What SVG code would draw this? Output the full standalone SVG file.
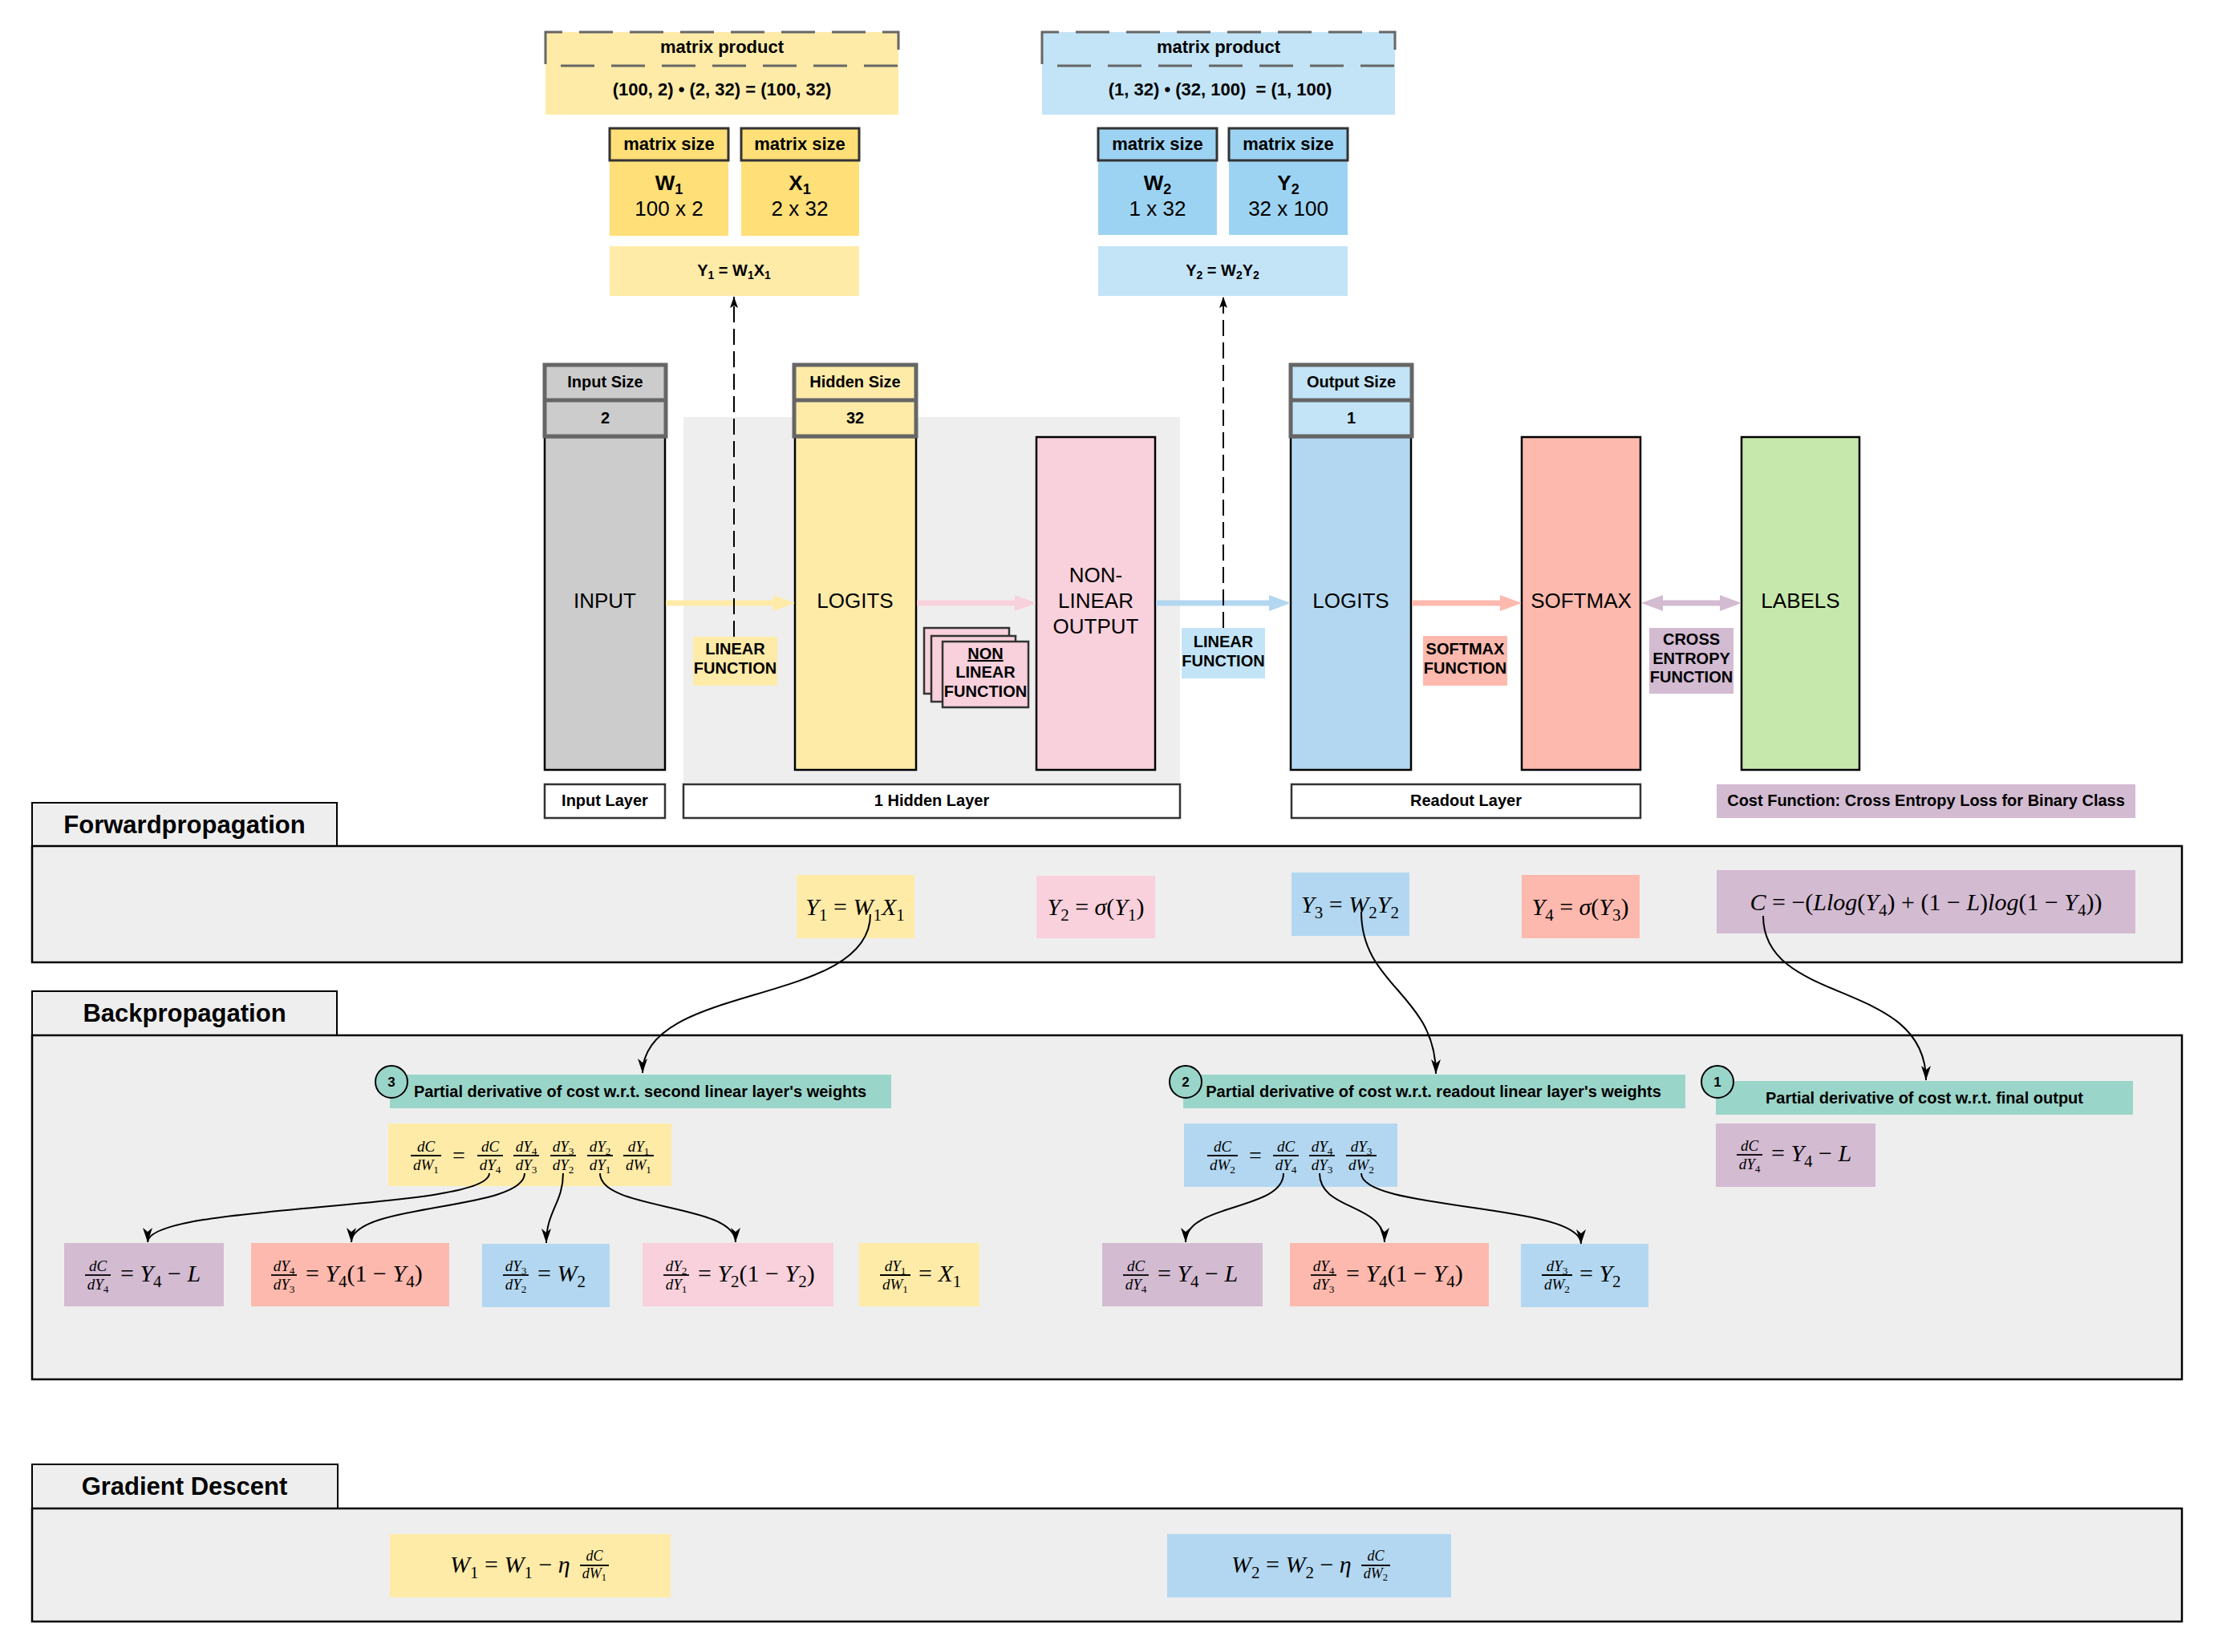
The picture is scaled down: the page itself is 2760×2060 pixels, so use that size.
<svg xmlns="http://www.w3.org/2000/svg" width="2760" height="2060" viewBox="0 0 2760 2060">
<defs>
<style>
text{font-family:"Liberation Sans",Arial,sans-serif;fill:#000}
.b{font-weight:bold}
.c{text-anchor:middle}
.lbl{font-size:20px;font-weight:bold;text-anchor:middle}
.big{font-size:26px;text-anchor:middle}
.sz{font-size:20px;font-weight:bold;text-anchor:middle}
.m{font-family:"Liberation Serif","Times New Roman",serif;font-style:italic}
.u{font-style:normal}
.s{font-size:70%;font-style:normal}
.f{font-size:19px;text-anchor:middle}
.f2{font-size:18px;text-anchor:middle}
.eq{font-size:30px}
.col{stroke:#000;stroke-width:2.5}
.szbox{stroke:#666;stroke-width:5}
.lay{fill:#fff;stroke:#333;stroke-width:2.5}
.panel{fill:#eee;stroke:#000;stroke-width:2.5}
.tab{fill:#eee;stroke:#000;stroke-width:2}
.conn{fill:none;stroke:#000;stroke-width:2;marker-end:url(#ah)}
.dash{fill:none;stroke:#000;stroke-width:2;stroke-dasharray:20 8;marker-end:url(#ahs)}
.bar{stroke:#000;stroke-width:1.8}
.stk{fill:#F8D1DC;stroke:#333;stroke-width:2.5}
.teal{fill:#9AD5C9}
</style>
<marker id="ah" markerWidth="18" markerHeight="12" refX="18" refY="6" orient="auto" markerUnits="userSpaceOnUse">
<path d="M0,0 L18,6 L0,12 L5,6 Z" fill="#000"/>
</marker>
<marker id="ahs" markerWidth="14" markerHeight="10" refX="14" refY="5" orient="auto" markerUnits="userSpaceOnUse">
<path d="M0,0 L14,5 L0,10 L3,5 Z" fill="#000"/>
</marker>
</defs>
<rect width="2760" height="2060" fill="#fff"/>

<!-- top matrix boxes, yellow -->
<g id="matprod1">
<rect x="680" y="40" width="440" height="103" fill="#FFEBA8"/>
<rect x="680" y="40" width="440" height="42" fill="none" stroke="#666" stroke-width="3" stroke-dasharray="42 21" stroke-dashoffset="21"/>
<text x="900" y="66" class="b c" font-size="22">matrix product</text>
<text x="900" y="119" class="b c" font-size="22">(100, 2) • (2, 32) = (100, 32)</text>
</g>
<g id="matW1">
<rect x="760" y="200" width="148" height="94" fill="#FFDF78"/>
<rect x="760" y="160" width="148" height="40" fill="#FFDF78" stroke="#333" stroke-width="3"/>
<text x="834" y="187" class="b c" font-size="22">matrix size</text>
<text x="834" y="237" class="b c" font-size="26">W<tspan font-size="18" dy="5">1</tspan></text>
<text x="834" y="269" class="c" font-size="26">100 x 2</text>
</g>
<g id="matX1">
<rect x="924" y="200" width="147" height="94" fill="#FFDF78"/>
<rect x="924" y="160" width="147" height="40" fill="#FFDF78" stroke="#333" stroke-width="3"/>
<text x="997" y="187" class="b c" font-size="22">matrix size</text>
<text x="997" y="237" class="b c" font-size="26">X<tspan font-size="18" dy="5">1</tspan></text>
<text x="997" y="269" class="c" font-size="26">2 x 32</text>
</g>
<g id="eqY1top">
<rect x="760" y="307" width="311" height="62" fill="#FFEBA8"/>
<text x="915" y="344" class="b c" font-size="20">Y<tspan font-size="14" dy="4">1</tspan><tspan dy="-4"> = W</tspan><tspan font-size="14" dy="4">1</tspan><tspan dy="-4">X</tspan><tspan font-size="14" dy="4">1</tspan></text>
</g>

<!-- top matrix boxes, blue -->
<g id="matprod2">
<rect x="1299" y="40" width="440" height="103" fill="#C3E4F7"/>
<rect x="1299" y="40" width="440" height="42" fill="none" stroke="#666" stroke-width="3" stroke-dasharray="42 21" stroke-dashoffset="21"/>
<text x="1519" y="66" class="b c" font-size="22">matrix product</text>
<text x="1521" y="119" class="b c" font-size="22" xml:space="preserve">(1, 32) • (32, 100)  = (1, 100)</text>
</g>
<g id="matW2">
<rect x="1369" y="200" width="148" height="93" fill="#9DD3F2"/>
<rect x="1369" y="160" width="148" height="40" fill="#9DD3F2" stroke="#333" stroke-width="3"/>
<text x="1443" y="187" class="b c" font-size="22">matrix size</text>
<text x="1443" y="237" class="b c" font-size="26">W<tspan font-size="18" dy="5">2</tspan></text>
<text x="1443" y="269" class="c" font-size="26">1 x 32</text>
</g>
<g id="matY2">
<rect x="1532" y="200" width="148" height="93" fill="#9DD3F2"/>
<rect x="1532" y="160" width="148" height="40" fill="#9DD3F2" stroke="#333" stroke-width="3"/>
<text x="1606" y="187" class="b c" font-size="22">matrix size</text>
<text x="1606" y="237" class="b c" font-size="26">Y<tspan font-size="18" dy="5">2</tspan></text>
<text x="1606" y="269" class="c" font-size="26">32 x 100</text>
</g>
<g id="eqY2top">
<rect x="1369" y="307" width="311" height="62" fill="#C3E4F7"/>
<text x="1524" y="344" class="b c" font-size="20">Y<tspan font-size="14" dy="4">2</tspan><tspan dy="-4"> = W</tspan><tspan font-size="14" dy="4">2</tspan><tspan dy="-4">Y</tspan><tspan font-size="14" dy="4">2</tspan></text>
</g>

<!-- hidden layer background -->
<rect id="hiddenBg" x="852" y="520" width="619" height="456" fill="#EEEEEE"/>

<!-- columns -->
<g id="input">
<rect x="679" y="545" width="150" height="415" fill="#CCCCCC" class="col"/>
<rect x="679" y="455" width="151" height="89" fill="#CCCCCC" class="szbox"/>
<line x1="679" y1="499" x2="830" y2="499" class="szbox"/>
<text x="754.5" y="483" class="sz">Input Size</text>
<text x="754.5" y="528" class="sz">2</text>
<text x="754" y="758" class="big">INPUT</text>
</g>
<g id="logits1">
<rect x="991" y="545" width="151" height="415" fill="#FFEBA8" class="col"/>
<rect x="990" y="455" width="152" height="89" fill="#FFEBA8" class="szbox"/>
<line x1="990" y1="499" x2="1142" y2="499" class="szbox"/>
<text x="1066" y="483" class="sz">Hidden Size</text>
<text x="1066" y="528" class="sz">32</text>
<text x="1066" y="758" class="big">LOGITS</text>
</g>
<g id="nonlinear">
<rect x="1292" y="545" width="148" height="415" fill="#F8D1DC" class="col"/>
<text x="1366" y="726" class="big">NON-</text>
<text x="1366" y="758" class="big">LINEAR</text>
<text x="1366" y="790" class="big">OUTPUT</text>
</g>
<g id="logits2">
<rect x="1609" y="545" width="150" height="415" fill="#B3D7F0" class="col"/>
<rect x="1609" y="455" width="151" height="89" fill="#C3E4F7" class="szbox"/>
<line x1="1609" y1="499" x2="1760" y2="499" class="szbox"/>
<text x="1684.5" y="483" class="sz">Output Size</text>
<text x="1684.5" y="528" class="sz">1</text>
<text x="1684" y="758" class="big">LOGITS</text>
</g>
<g id="softmax">
<rect x="1897" y="545" width="148" height="415" fill="#FDB9AE" class="col"/>
<text x="1971" y="758" class="big">SOFTMAX</text>
</g>
<g id="labels">
<rect x="2171" y="545" width="147" height="415" fill="#C7E8AC" class="col"/>
<text x="2244.5" y="758" class="big">LABELS</text>
</g>

<!-- flow arrows -->
<g id="flow">
<line x1="830" y1="752" x2="966" y2="752" stroke="#FFEBA8" stroke-width="7"/>
<polygon points="964,742 991,752 964,762" fill="#FFEBA8"/>
<line x1="1143" y1="752" x2="1268" y2="752" stroke="#F8D1DC" stroke-width="7"/>
<polygon points="1265,742 1292,752 1265,762" fill="#F8D1DC"/>
<line x1="1441" y1="752" x2="1585" y2="752" stroke="#B3D7F0" stroke-width="7"/>
<polygon points="1582,742 1609,752 1582,762" fill="#B3D7F0"/>
<line x1="1760" y1="752" x2="1873" y2="752" stroke="#FDB9AE" stroke-width="7"/>
<polygon points="1870,742 1897,752 1870,762" fill="#FDB9AE"/>
<line x1="2070" y1="752" x2="2147" y2="752" stroke="#D3BBD2" stroke-width="7"/>
<polygon points="2073,742 2046,752 2073,762" fill="#D3BBD2"/>
<polygon points="2144,742 2171,752 2144,762" fill="#D3BBD2"/>
<line x1="915" y1="794" x2="915" y2="370" class="dash"/>
<line x1="1525" y1="783" x2="1525" y2="370" class="dash"/>
</g>

<!-- function labels -->
<g id="linfn1">
<rect x="864" y="794" width="105" height="61" fill="#FFEBA8"/>
<text x="916.5" y="816" class="lbl">LINEAR</text>
<text x="916.5" y="840" class="lbl">FUNCTION</text>
</g>
<g id="nonlinfn">
<rect x="1152" y="783" width="106" height="82" class="stk"/>
<rect x="1161" y="793" width="105" height="82" class="stk"/>
<rect x="1175" y="800" width="107" height="82" class="stk"/>
<text x="1228.5" y="822" class="lbl" text-decoration="underline">NON</text>
<text x="1228.5" y="845" class="lbl">LINEAR</text>
<text x="1228.5" y="869" class="lbl" font-size="19">FUNCTION</text>
</g>
<g id="linfn2">
<rect x="1473" y="783" width="104" height="63" fill="#C3E4F7"/>
<text x="1525" y="807" class="lbl">LINEAR</text>
<text x="1525" y="831" class="lbl">FUNCTION</text>
</g>
<g id="softfn">
<rect x="1774" y="793" width="105" height="62" fill="#FDB9AE"/>
<text x="1826.5" y="816" class="lbl">SOFTMAX</text>
<text x="1826.5" y="840" class="lbl">FUNCTION</text>
</g>
<g id="crossfn">
<rect x="2056" y="783" width="105" height="82" fill="#D3BBD2"/>
<text x="2108.5" y="804" class="lbl">CROSS</text>
<text x="2108.5" y="828" class="lbl">ENTROPY</text>
<text x="2108.5" y="851" class="lbl">FUNCTION</text>
</g>

<!-- layer labels -->
<g id="layerInput"><rect x="679" y="978" width="150" height="42" class="lay"/><text x="754" y="1005" class="sz">Input Layer</text></g>
<g id="layerHidden"><rect x="852" y="978" width="619" height="42" class="lay"/><text x="1161.5" y="1005" class="sz">1 Hidden Layer</text></g>
<g id="layerReadout"><rect x="1610" y="978" width="435" height="42" class="lay"/><text x="1827.5" y="1005" class="sz">Readout Layer</text></g>
<g id="costLabel"><rect x="2140" y="978" width="522" height="42" fill="#D3BBD2"/><text x="2401" y="1005" class="sz">Cost Function: Cross Entropy Loss for Binary Class</text></g>

<!-- Forward propagation -->
<g id="forward">
<rect x="40" y="1001" width="380" height="54" class="tab"/>
<rect x="40" y="1055" width="2680" height="145" class="panel"/>
<text x="230" y="1039" class="b c" font-size="31">Forwardpropagation</text>
</g>
<g id="fY1"><rect x="993" y="1091" width="147" height="79" fill="#FFEBA8"/>
<text class="m eq c" x="1066" y="1141">Y<tspan class="s" dy="7">1</tspan><tspan class="u" dy="-7"> = </tspan>W<tspan class="s" dy="7">1</tspan><tspan dy="-7">X</tspan><tspan class="s" dy="7">1</tspan></text></g>
<g id="fY2"><rect x="1292" y="1092" width="148" height="78" fill="#F8D1DC"/>
<text class="m eq c" x="1366" y="1141">Y<tspan class="s" dy="7">2</tspan><tspan class="u" dy="-7"> = </tspan>σ<tspan class="u">(</tspan>Y<tspan class="s" dy="7">1</tspan><tspan class="u" dy="-7">)</tspan></text></g>
<g id="fY3"><rect x="1610" y="1088" width="147" height="79" fill="#B3D7F0"/>
<text class="m eq c" x="1683" y="1138">Y<tspan class="s" dy="7">3</tspan><tspan class="u" dy="-7"> = </tspan>W<tspan class="s" dy="7">2</tspan><tspan dy="-7">Y</tspan><tspan class="s" dy="7">2</tspan></text></g>
<g id="fY4"><rect x="1897" y="1091" width="147" height="79" fill="#FDB9AE"/>
<text class="m eq c" x="1970" y="1141">Y<tspan class="s" dy="7">4</tspan><tspan class="u" dy="-7"> = </tspan>σ<tspan class="u">(</tspan>Y<tspan class="s" dy="7">3</tspan><tspan class="u" dy="-7">)</tspan></text></g>
<g id="fC"><rect x="2140" y="1085" width="522" height="79" fill="#D3BBD2"/>
<text class="m eq c" x="2401" y="1135">C<tspan class="u"> = −(</tspan>Llog<tspan class="u">(</tspan>Y<tspan class="s" dy="7">4</tspan><tspan class="u" dy="-7">) + (1 − </tspan>L<tspan class="u">)</tspan>log<tspan class="u">(1 − </tspan>Y<tspan class="s" dy="7">4</tspan><tspan class="u" dy="-7">))</tspan></text></g>

<!-- Backpropagation -->
<g id="backward">
<rect x="40" y="1236" width="380" height="55" class="tab"/>
<rect x="40" y="1291" width="2680" height="429" class="panel"/>
<text x="230" y="1274" class="b c" font-size="31">Backpropagation</text>
</g>
<g id="step3">
<rect x="486" y="1340" width="625" height="42" class="teal"/>
<circle cx="488" cy="1349" r="20" class="teal" stroke="#000" stroke-width="2"/>
<text x="488" y="1355" class="b c" font-size="17">3</text>
<text x="798" y="1368" class="b c" font-size="20">Partial derivative of cost w.r.t. second linear layer's weights</text>
</g>
<g id="step2">
<rect x="1475" y="1340" width="626" height="42" class="teal"/>
<circle cx="1478" cy="1349" r="20" class="teal" stroke="#000" stroke-width="2"/>
<text x="1478" y="1355" class="b c" font-size="17">2</text>
<text x="1787" y="1368" class="b c" font-size="20">Partial derivative of cost w.r.t. readout linear layer's weights</text>
</g>
<g id="step1">
<rect x="2139" y="1348" width="520" height="42" class="teal"/>
<circle cx="2141" cy="1349" r="20" class="teal" stroke="#000" stroke-width="2"/>
<text x="2141" y="1355" class="b c" font-size="17">1</text>
<text x="2399" y="1376" class="b c" font-size="20">Partial derivative of cost w.r.t. final output</text>
</g>

<g id="chain1">
<rect x="484" y="1401" width="353" height="78" fill="#FFEBA8"/>
<text class="m f" x="531" y="1436">dC</text><line class="bar" x1="512" y1="1441" x2="550" y2="1441"/><text class="m f" x="531" y="1459">dW<tspan class="s" dy="4">1</tspan></text>
<text class="m u c" font-size="28" x="572" y="1450">=</text>
<text class="m f" x="611" y="1436">dC</text><line class="bar" x1="595" y1="1441" x2="627" y2="1441"/><text class="m f" x="611" y="1459">dY<tspan class="s" dy="4">4</tspan></text>
<text class="m f" x="656" y="1436">dY<tspan class="s" dy="4">4</tspan></text><line class="bar" x1="640" y1="1441" x2="672" y2="1441"/><text class="m f" x="656" y="1459">dY<tspan class="s" dy="4">3</tspan></text>
<text class="m f" x="702" y="1436">dY<tspan class="s" dy="4">3</tspan></text><line class="bar" x1="686" y1="1441" x2="718" y2="1441"/><text class="m f" x="702" y="1459">dY<tspan class="s" dy="4">2</tspan></text>
<text class="m f" x="748" y="1436">dY<tspan class="s" dy="4">2</tspan></text><line class="bar" x1="732" y1="1441" x2="764" y2="1441"/><text class="m f" x="748" y="1459">dY<tspan class="s" dy="4">1</tspan></text>
<text class="m f" x="796" y="1436">dY<tspan class="s" dy="4">1</tspan></text><line class="bar" x1="777" y1="1441" x2="815" y2="1441"/><text class="m f" x="796" y="1459">dW<tspan class="s" dy="4">1</tspan></text>
</g>

<g id="chain2">
<rect x="1476" y="1401" width="266" height="79" fill="#B3D7F0"/>
<text class="m f" x="1524" y="1436">dC</text><line class="bar" x1="1505" y1="1441" x2="1543" y2="1441"/><text class="m f" x="1524" y="1459">dW<tspan class="s" dy="4">2</tspan></text>
<text class="m u c" font-size="28" x="1565" y="1450">=</text>
<text class="m f" x="1603" y="1436">dC</text><line class="bar" x1="1587" y1="1441" x2="1619" y2="1441"/><text class="m f" x="1603" y="1459">dY<tspan class="s" dy="4">4</tspan></text>
<text class="m f" x="1648" y="1436">dY<tspan class="s" dy="4">4</tspan></text><line class="bar" x1="1632" y1="1441" x2="1664" y2="1441"/><text class="m f" x="1648" y="1459">dY<tspan class="s" dy="4">3</tspan></text>
<text class="m f" x="1697" y="1436">dY<tspan class="s" dy="4">3</tspan></text><line class="bar" x1="1678" y1="1441" x2="1716" y2="1441"/><text class="m f" x="1697" y="1459">dW<tspan class="s" dy="4">2</tspan></text>
</g>

<g id="d1top">
<rect x="2139" y="1401" width="199" height="79" fill="#D3BBD2"/>
<text class="m f" x="2181" y="1435">dC</text><line class="bar" x1="2165" y1="1440" x2="2197" y2="1440"/><text class="m f" x="2181" y="1458">dY<tspan class="s" dy="4">4</tspan></text>
<text class="m eq" x="2208" y="1448"><tspan class="u">= </tspan>Y<tspan class="s" dy="7">4</tspan><tspan class="u" dy="-7"> − </tspan>L</text>
</g>

<g id="b1">
<rect x="80" y="1550" width="199" height="79" fill="#D3BBD2"/>
<text class="m f" x="122" y="1585">dC</text><line class="bar" x1="106" y1="1590" x2="138" y2="1590"/><text class="m f" x="122" y="1608">dY<tspan class="s" dy="4">4</tspan></text>
<text class="m eq" x="150" y="1598"><tspan class="u">= </tspan>Y<tspan class="s" dy="7">4</tspan><tspan class="u" dy="-7"> − </tspan>L</text>
</g>
<g id="b2">
<rect x="313" y="1550" width="247" height="79" fill="#FDB9AE"/>
<text class="m f" x="354" y="1585">dY<tspan class="s" dy="4">4</tspan></text><line class="bar" x1="338" y1="1590" x2="370" y2="1590"/><text class="m f" x="354" y="1608">dY<tspan class="s" dy="4">3</tspan></text>
<text class="m eq" x="381" y="1598"><tspan class="u">= </tspan>Y<tspan class="s" dy="7">4</tspan><tspan class="u" dy="-7">(1 − </tspan>Y<tspan class="s" dy="7">4</tspan><tspan class="u" dy="-7">)</tspan></text>
</g>
<g id="b3">
<rect x="601" y="1551" width="159" height="79" fill="#B3D7F0"/>
<text class="m f" x="643" y="1585">dY<tspan class="s" dy="4">3</tspan></text><line class="bar" x1="627" y1="1590" x2="659" y2="1590"/><text class="m f" x="643" y="1608">dY<tspan class="s" dy="4">2</tspan></text>
<text class="m eq" x="670" y="1598"><tspan class="u">= </tspan>W<tspan class="s" dy="7">2</tspan></text>
</g>
<g id="b4">
<rect x="801" y="1550" width="238" height="79" fill="#F8D1DC"/>
<text class="m f" x="843" y="1585">dY<tspan class="s" dy="4">2</tspan></text><line class="bar" x1="827" y1="1590" x2="859" y2="1590"/><text class="m f" x="843" y="1608">dY<tspan class="s" dy="4">1</tspan></text>
<text class="m eq" x="870" y="1598"><tspan class="u">= </tspan>Y<tspan class="s" dy="7">2</tspan><tspan class="u" dy="-7">(1 − </tspan>Y<tspan class="s" dy="7">2</tspan><tspan class="u" dy="-7">)</tspan></text>
</g>
<g id="b5">
<rect x="1071" y="1550" width="150" height="79" fill="#FFEBA8"/>
<text class="m f" x="1116" y="1585">dY<tspan class="s" dy="4">1</tspan></text><line class="bar" x1="1097" y1="1590" x2="1135" y2="1590"/><text class="m f" x="1116" y="1608">dW<tspan class="s" dy="4">1</tspan></text>
<text class="m eq" x="1145" y="1598"><tspan class="u">= </tspan>X<tspan class="s" dy="7">1</tspan></text>
</g>
<g id="r1">
<rect x="1374" y="1550" width="200" height="79" fill="#D3BBD2"/>
<text class="m f" x="1416" y="1585">dC</text><line class="bar" x1="1400" y1="1590" x2="1432" y2="1590"/><text class="m f" x="1416" y="1608">dY<tspan class="s" dy="4">4</tspan></text>
<text class="m eq" x="1443" y="1598"><tspan class="u">= </tspan>Y<tspan class="s" dy="7">4</tspan><tspan class="u" dy="-7"> − </tspan>L</text>
</g>
<g id="r2">
<rect x="1608" y="1550" width="248" height="79" fill="#FDB9AE"/>
<text class="m f" x="1650" y="1585">dY<tspan class="s" dy="4">4</tspan></text><line class="bar" x1="1634" y1="1590" x2="1666" y2="1590"/><text class="m f" x="1650" y="1608">dY<tspan class="s" dy="4">3</tspan></text>
<text class="m eq" x="1678" y="1598"><tspan class="u">= </tspan>Y<tspan class="s" dy="7">4</tspan><tspan class="u" dy="-7">(1 − </tspan>Y<tspan class="s" dy="7">4</tspan><tspan class="u" dy="-7">)</tspan></text>
</g>
<g id="r3">
<rect x="1896" y="1551" width="159" height="79" fill="#B3D7F0"/>
<text class="m f" x="1941" y="1585">dY<tspan class="s" dy="4">3</tspan></text><line class="bar" x1="1922" y1="1590" x2="1960" y2="1590"/><text class="m f" x="1941" y="1608">dW<tspan class="s" dy="4">2</tspan></text>
<text class="m eq" x="1969" y="1598"><tspan class="u">= </tspan>Y<tspan class="s" dy="7">2</tspan></text>
</g>

<!-- Gradient descent -->
<g id="gradient">
<rect x="40" y="1826" width="381" height="55" class="tab"/>
<rect x="40" y="1881" width="2680" height="141" class="panel"/>
<text x="230" y="1864" class="b c" font-size="31">Gradient Descent</text>
</g>
<g id="g1">
<rect x="486" y="1913" width="350" height="79" fill="#FFEBA8"/>
<text class="m eq" x="561" y="1961">W<tspan class="s" dy="7">1</tspan><tspan class="u" dy="-7"> = </tspan>W<tspan class="s" dy="7">1</tspan><tspan class="u" dy="-7"> − </tspan>η</text>
<text class="m f2" x="741" y="1946">dC</text><line class="bar" x1="723" y1="1952" x2="759" y2="1952"/><text class="m f2" x="741" y="1968">dW<tspan class="s" dy="3">1</tspan></text>
</g>
<g id="g2">
<rect x="1455" y="1913" width="354" height="79" fill="#B3D7F0"/>
<text class="m eq" x="1535" y="1961">W<tspan class="s" dy="7">2</tspan><tspan class="u" dy="-7"> = </tspan>W<tspan class="s" dy="7">2</tspan><tspan class="u" dy="-7"> − </tspan>η</text>
<text class="m f2" x="1715" y="1946">dC</text><line class="bar" x1="1697" y1="1952" x2="1733" y2="1952"/><text class="m f2" x="1715" y="1968">dW<tspan class="s" dy="3">2</tspan></text>
</g>

<!-- connectors -->
<g id="connectors">
<path class="conn" d="M1085,1140 C1085,1255 801,1225 801,1338"/>
<path class="conn" d="M1697,1137 C1697,1230 1790,1240 1790,1339"/>
<path class="conn" d="M2198,1142 C2198,1255 2401,1220 2401,1347"/>
<path class="conn" d="M610,1463 C610,1510 184,1500 184,1549"/>
<path class="conn" d="M654,1463 C654,1510 438,1500 438,1549"/>
<path class="conn" d="M702,1463 C702,1500 681,1510 681,1550"/>
<path class="conn" d="M748,1463 C748,1510 917,1500 917,1549"/>
<path class="conn" d="M1600,1463 C1600,1510 1478,1500 1478,1549"/>
<path class="conn" d="M1645,1463 C1645,1510 1726,1500 1726,1549"/>
<path class="conn" d="M1697,1463 C1697,1510 1971,1500 1971,1551"/>
</g>
</svg>
